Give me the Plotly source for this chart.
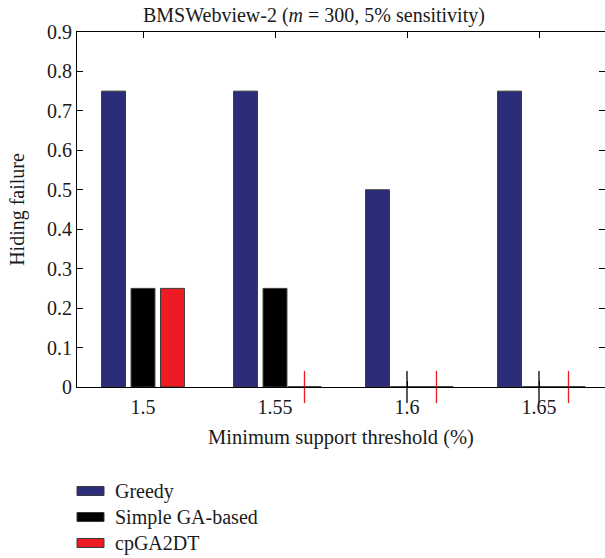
import plotly.graph_objects as go

# Data
thresholds = ["1.5", "1.55", "1.6", "1.65"]
series_names = ["Greedy", "Simple GA-based", "cpGA2DT"]
greedy = [0.75, 0.75, 0.5, 0.75]
simple_ga = [0.25, 0.25, 0.0, 0.0]
cpga2dt = [0.25, 0.0, 0.0, 0.0]
y_ticks = [0, 0.1, 0.2, 0.3, 0.4, 0.5, 0.6, 0.7, 0.8, 0.9]

series_values = [greedy, simple_ga, cpga2dt]
colors = ["#2B2D7A", "#000000", "#ED1C24"]
tick_colors = ["#2B2D7A", "#000000", "#ED1C24"]

FONT = "Liberation Serif"
W, H = 605, 558
L, R, T, B = 77, 0, 32, 171
BARGAP = 0.33
BARGROUPGAP = 0.19

fig = go.Figure()
xs = list(range(len(thresholds)))
for name, vals, col in zip(series_names, series_values, colors):
    fig.add_trace(go.Bar(
        x=xs, y=vals, name=name,
        marker=dict(color=col, line=dict(color="#3a3a3a", width=1)),
        showlegend=False,
    ))

# Zero-valued bars drawn as a flat segment with a vertical tick
slot = (1 - BARGAP) / len(series_names)
for k, (vals, tcol) in enumerate(zip(series_values, tick_colors)):
    zx = [i + (k - 1) * slot for i, v in enumerate(vals) if v == 0]
    zy = [0 for v in vals if v == 0]
    if not zx:
        continue
    fig.add_trace(go.Scatter(
        x=zx, y=zy, mode="markers", showlegend=False, cliponaxis=False,
        marker=dict(symbol="line-ew", size=24, line=dict(color="#444444", width=2)),
        hoverinfo="skip",
    ))
    fig.add_trace(go.Scatter(
        x=zx, y=zy, mode="markers", showlegend=False, cliponaxis=False,
        marker=dict(symbol="line-ns", size=23, line=dict(color=tcol, width=1.3)),
        hoverinfo="skip",
    ))

pw, ph = W - L - R, H - T - B


def px_x(p):
    return (p - L) / pw


def px_y(p):
    return (H - B - p) / ph


# Legend: wide swatches with labels below the plot
shapes = []
annotations = []
rows = [491, 517, 543]
for name, col, ry in zip(series_names, colors, rows):
    shapes.append(dict(
        type="rect", xref="paper", yref="paper",
        x0=px_x(77), x1=px_x(104), y0=px_y(ry + 4.5), y1=px_y(ry - 4.5),
        fillcolor=col, line=dict(color="#3a3a3a", width=1),
    ))
    annotations.append(dict(
        xref="paper", yref="paper", x=px_x(113), y=px_y(ry),
        xanchor="left", yanchor="middle", text=name, showarrow=False,
        font=dict(family=FONT, size=20, color="#1a1a1a"),
    ))

annotations.append(dict(
    xref="paper", yref="paper", x=px_x(314), y=px_y(15),
    xanchor="center", yanchor="middle", showarrow=False,
    text="BMSWebview-2 (<i>m</i> = 300, 5% sensitivity)",
    font=dict(family=FONT, size=20, color="#1a1a1a"),
))

axis_common = dict(
    showline=True, linecolor="black", linewidth=1.2, mirror="ticks",
    ticks="inside", ticklen=6, tickcolor="black", tickwidth=1,
    showgrid=False, zeroline=False,
    tickfont=dict(family=FONT, size=20, color="#1a1a1a"),
)

fig.update_layout(
    width=W, height=H,
    margin=dict(l=L, r=R, t=T, b=B),
    paper_bgcolor="white", plot_bgcolor="white",
    barmode="group", bargap=BARGAP, bargroupgap=BARGROUPGAP,
    shapes=shapes, annotations=annotations,
    font=dict(family=FONT, size=20, color="#1a1a1a"),
    xaxis=dict(
        **axis_common, range=[-0.5, 3.5],
        tickvals=xs, ticktext=thresholds, ticklabelstandoff=2,
        title=dict(text="Minimum support threshold (%)", standoff=12,
                   font=dict(family=FONT, size=20.5, color="#1a1a1a")),
    ),
    yaxis=dict(
        **axis_common, range=[0, 0.9],
        tickvals=y_ticks, ticktext=[("%g" % v) if v else "0" for v in y_ticks],
        title=dict(text="Hiding failure", standoff=16,
                   font=dict(family=FONT, size=20, color="#1a1a1a")),
    ),
)

fig.write_html("out.html")
